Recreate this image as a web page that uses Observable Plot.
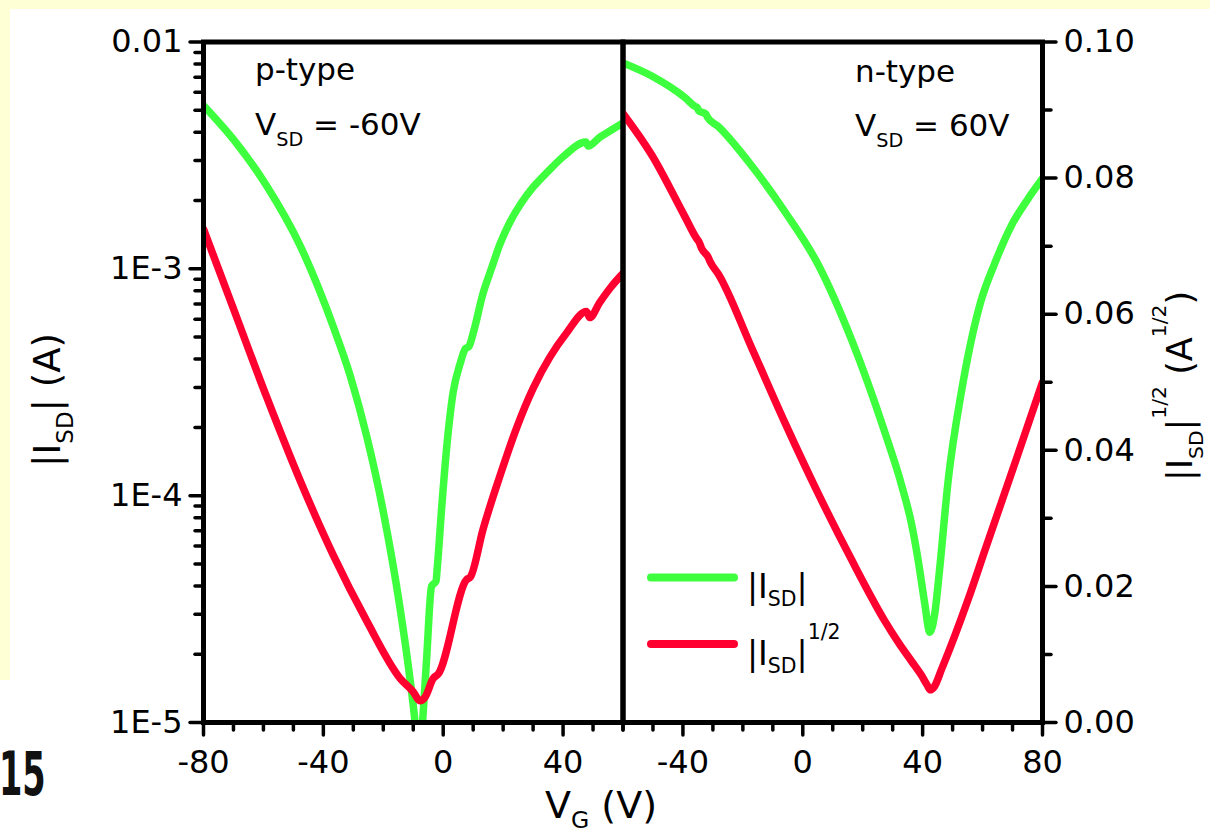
<!DOCTYPE html>
<html>
<head>
<meta charset="utf-8">
<script src="https://cdn.jsdelivr.net/npm/d3@7"></script>
<script src="https://cdn.jsdelivr.net/npm/@observablehq/plot@0.6"></script>
<style>
  html, body { margin: 0; padding: 0; background: #fff; }
  #wrap { position: relative; width: 1210px; height: 833px; overflow: hidden; background: #fff; }
  #wrap svg { position: absolute; left: 0; top: 0; }
  .band { position: absolute; background: #FFFFD6; }
</style>
</head>
<body>
<div id="wrap">
  <div class="band" style="left:0;top:0;width:1210px;height:9px"></div>
  <div class="band" style="left:0;top:0;width:10px;height:680px"></div>
</div>
<script>
// ---------------- data ----------------
// p-type panel, V_SD = -60 V : |I_SD| (A)
const pVgI = [-80, -70, -58.9, -47.8, -36.7, -31.1, -25.5, -20, -14.4, -11.1, -9.4, -8.2, -6.9, -5.5, -3.9, -2.4, -2, -0.5, 1.1, 3.3, 5.6, 7.4, 8.6, 10, 13.3, 16, 19, 22, 26, 30, 35, 40, 47.6, 48.4, 52.2, 56, 60];
const pIsd = [5.25e-3, 3.72e-3, 2.32e-3, 1.27e-3, 5.57e-4, 3.4e-4, 1.82e-4, 8.5e-5, 3.19e-5, 1.56e-5, 1.0e-5, 6.3e-6, 1.0e-5, 1.95e-5, 3.98e-5, 4.2e-5, 4.78e-5, 8.9e-5, 1.6e-4, 2.85e-4, 3.8e-4, 4.45e-4, 4.55e-4, 5.2e-4, 7.8e-4, 9.95e-4, 1.29e-3, 1.58e-3, 1.945e-3, 2.29e-3, 2.69e-3, 3.12e-3, 3.62e-3, 3.48e-3, 3.8e-3, 4.08e-3, 4.4e-3];
// p-type panel : |I_SD|^1/2 (A^1/2)
const pVgR = [-80, -70, -58.9, -47.8, -36.7, -25.5, -14.4, -10, -7.8, -6.1, -3.3, -1.7, 7.8, 9.1, 13.3, 18.9, 24.5, 30, 35.6, 41.1, 47.8, 48.9, 52.2, 56, 60];
const pSqrt = [0.0725, 0.0608, 0.0478, 0.0356, 0.0246, 0.0149, 0.0065, 0.0045, 0.0032, 0.0037, 0.0065, 0.0071, 0.0210, 0.0214, 0.0284, 0.0362, 0.0433, 0.0491, 0.0537, 0.0572, 0.0604, 0.0595, 0.0617, 0.0640, 0.0660];
// n-type panel, V_SD = 60 V : |I_SD| (A)
const nVgI = [-60, -50.4, -39.3, -36, -35.2, -34.8, -32.3, -31.9, -28.2, -17, -5.9, 5.2, 16.3, 27.4, 33, 36.3, 38.5, 40.7, 42.4, 44.1, 45.7, 48.5, 52.9, 59.1, 64.1, 69.6, 75, 80];
const nIsd = [8.09e-3, 7.08e-3, 5.68e-3, 5.2e-3, 5.13e-3, 4.99e-3, 4.81e-3, 4.68e-3, 4.24e-3, 2.84e-3, 1.78e-3, 1.04e-3, 4.86e-4, 1.9e-4, 1.11e-4, 7.5e-5, 5.2e-5, 3.35e-5, 2.5e-5, 3.06e-5, 4.79e-5, 1.16e-4, 2.85e-4, 6.95e-4, 1.06e-3, 1.55e-3, 2.02e-3, 2.5e-3];
// n-type panel : |I_SD|^1/2 (A^1/2)
const nVgR = [-60, -50.4, -39.3, -35.4, -34.6, -33.8, -31.6, -30.8, -28.2, -17, -5.9, 5.2, 16.3, 27.4, 32, 36.3, 39.5, 41.5, 42.6, 43.8, 46.3, 55.2, 60.7, 71.8, 80];
const nSqrt = [0.0895, 0.0834, 0.0743, 0.0711, 0.0706, 0.0697, 0.0684, 0.0676, 0.0659, 0.0550, 0.0440, 0.0336, 0.0239, 0.0149, 0.0117, 0.0090, 0.0070, 0.0055, 0.0048, 0.0052, 0.0078, 0.0181, 0.0252, 0.0394, 0.0500];

// ticks and labels
const xMajorP = [-80, -40, 0, 40];
const xMinorP = [-70, -60, -50, -30, -20, -10, 10, 20, 30, 50, 60];
const xMajorN = [-40, 0, 40, 80];
const xMinorN = [-60, -50, -30, -20, -10, 10, 20, 30, 50, 60, 70];
const yLogMajor = [1e-2, 1e-3, 1e-4, 1e-5];
const yLogLabels = ["0.01", "1E-3", "1E-4", "1E-5"];
const yLogMinor = [2e-5,3e-5,4e-5,5e-5,6e-5,7e-5,8e-5,9e-5, 2e-4,3e-4,4e-4,5e-4,6e-4,7e-4,8e-4,9e-4, 2e-3,3e-3,4e-3,5e-3,6e-3,7e-3,8e-3,9e-3];
const yLinMajor = [0, 0.02, 0.04, 0.06, 0.08, 0.10];
const yLinLabels = ["0.00", "0.02", "0.04", "0.06", "0.08", "0.10"];
const yLinMinor = [0.01, 0.03, 0.05, 0.07, 0.09];

// ---------------- layout ----------------
const W = 1210, H = 833;
const TOP = 41.5, BOTTOM = 111, LEFT = 203, MID = 622.5, RIGHT = 168;
const FONT = "'DejaVu Sans', 'Liberation Sans', Arial, sans-serif";
const GREEN = "#3EFF3E", RED = "#FF0030";
const LW = 7.5;

const rows = (xs, ys) => xs.map((v, i) => ({v, y: ys[i]}));
const tick = {strokeWidth: 3.5, strokeLinecap: "round"};

function panel(left, xDomain, yScale, marks) {
  return Plot.plot({
    width: W, height: H,
    marginTop: TOP, marginBottom: BOTTOM,
    marginLeft: left ? LEFT : MID,
    marginRight: left ? W - MID : RIGHT,
    x: {domain: xDomain, axis: null, label: null},
    y: {...yScale, axis: null, label: null},
    style: {background: "none", fontFamily: FONT, fontSize: "32px", color: "#000", overflow: "visible"},
    marks
  });
}
const logY = {type: "log", domain: [1e-5, 1e-2]};
const linY = {type: "linear", domain: [0, 0.1]};

const wrap = document.getElementById("wrap");

// green |I_SD| on log scale
const p1 = panel(true, [-80, 60], logY, [
  Plot.line(rows(pVgI, pIsd), {x: "v", y: "y", stroke: GREEN, strokeWidth: LW, curve: "monotone-x", clip: true}),
  Plot.axisY(yLogMajor, {anchor: "left", tickSize: 13, tickPadding: 8, tickFormat: d => yLogLabels[yLogMajor.indexOf(d)], ...tick}),
  Plot.axisY(yLogMinor, {anchor: "left", tickSize: 8, tickFormat: () => "", ...tick})
]);
const p2 = panel(false, [-60, 80], logY, [
  Plot.line(rows(nVgI, nIsd), {x: "v", y: "y", stroke: GREEN, strokeWidth: LW, curve: "monotone-x", clip: true})
]);
// red |I_SD|^1/2 on linear scale, plus frames and x axes
const p3 = panel(true, [-80, 60], linY, [
  Plot.line(rows(pVgR, pSqrt), {x: "v", y: "y", stroke: RED, strokeWidth: LW, curve: "monotone-x", clip: true}),
  Plot.axisX(xMajorP, {anchor: "bottom", tickSize: 13, tickPadding: 15, tickFormat: d => String(d), ...tick}),
  Plot.axisX(xMinorP, {anchor: "bottom", tickSize: 8, tickFormat: () => "", ...tick}),
  Plot.frame({stroke: "#000", strokeWidth: 5})
]);
const p4 = panel(false, [-60, 80], linY, [
  Plot.line(rows(nVgR, nSqrt), {x: "v", y: "y", stroke: RED, strokeWidth: LW, curve: "monotone-x", clip: true}),
  Plot.axisX(xMajorN, {anchor: "bottom", tickSize: 13, tickPadding: 15, tickFormat: d => String(d), ...tick}),
  Plot.axisX(xMinorN, {anchor: "bottom", tickSize: 8, tickFormat: () => "", ...tick}),
  Plot.axisY(yLinMajor, {anchor: "right", tickSize: 13, tickPadding: 8, tickFormat: d => yLinLabels[yLinMajor.indexOf(d)], ...tick}),
  Plot.axisY(yLinMinor, {anchor: "right", tickSize: 8, tickFormat: () => "", ...tick}),
  Plot.frame({stroke: "#000", strokeWidth: 5})
]);
[p1, p2, p3, p4].forEach(s => wrap.appendChild(s));

// ---------------- text annotations, titles, legend ----------------
const ann = d3.create("svg").attr("width", W).attr("height", H)
  .attr("font-family", FONT).style("white-space", "pre");

function rich(x, y, size, parts, {anchor = "start", rotate = 0, subShift = 0.36, supShift = 0.62, small = 0.62, weight = "normal"} = {}) {
  const t = ann.append("text")
    .attr("transform", `translate(${x},${y}) rotate(${rotate})`)
    .attr("font-size", size).attr("text-anchor", anchor).attr("fill", "#000").attr("font-weight", weight);
  let cur = 0;
  for (const p of parts) {
    const shift = p.sub ? size * subShift : p.sup ? -size * supShift : 0;
    t.append("tspan").attr("dy", shift - cur).attr("font-size", (p.sub || p.sup) ? size * small : size).text(p.t);
    cur = shift;
  }
  return t;
}

// panel annotations
rich(255, 80, 31, [{t: "p-type"}]);
rich(255, 135, 31, [{t: "V"}, {t: "SD", sub: true}, {t: " = -60V"}]);
rich(855, 82, 31, [{t: "n-type"}]);
rich(855, 136, 31, [{t: "V"}, {t: "SD", sub: true}, {t: " = 60V"}]);

// legend
ann.append("line").attr("x1", 651).attr("x2", 734).attr("y1", 577.5).attr("y2", 577.5)
  .attr("stroke", GREEN).attr("stroke-width", 8).attr("stroke-linecap", "round");
ann.append("line").attr("x1", 651).attr("x2", 734).attr("y1", 644).attr("y2", 644)
  .attr("stroke", RED).attr("stroke-width", 8).attr("stroke-linecap", "round");
rich(747, 598, 33, [{t: "|I"}, {t: "SD", sub: true}, {t: "|"}], {subShift: 0.24});
rich(747, 665, 33, [{t: "|I"}, {t: "SD", sub: true}, {t: "|"}, {t: "1/2", sup: true}], {subShift: 0.24, supShift: 0.8});

// axis titles
rich(60, 400, 37, [{t: "|I"}, {t: "SD", sub: true}, {t: "| (A)"}], {anchor: "middle", rotate: -90});
rich(1192, 386, 35, [{t: "|I"}, {t: "SD", sub: true}, {t: "|"}, {t: "1/2", sup: true}, {t: " (A"}, {t: "1/2", sup: true}, {t: ")"}], {anchor: "middle", rotate: -90, subShift: 0.3, supShift: 0.75, small: 0.58});
rich(601, 818, 38, [{t: "V"}, {t: "G", sub: true}, {t: " (V)"}], {anchor: "middle", subShift: 0.26});

// page number fragment at bottom-left
ann.append("text").attr("transform", "translate(-1,795) scale(0.56,1)")
  .attr("font-size", 60).attr("font-weight", "bold").attr("fill", "#111").text("15");

wrap.appendChild(ann.node());
</script>
</body>
</html>
